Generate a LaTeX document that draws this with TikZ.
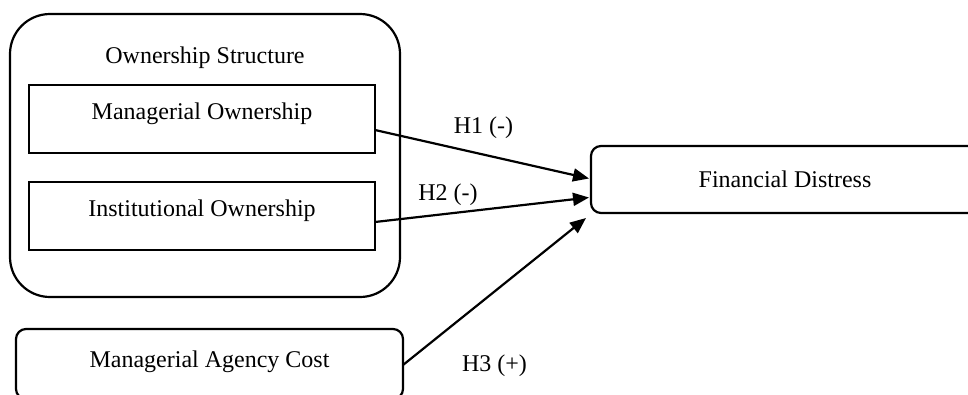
\documentclass[tikz,border=0pt]{standalone}
\usepackage{fontspec}
\setmainfont{Liberation Serif}
\usetikzlibrary{arrows.meta}
\begin{document}
\begin{tikzpicture}[x=1pt,y=-1pt,
  every node/.style={font=\fontsize{24}{28}\selectfont, inner sep=0pt, outer sep=0pt},
  box/.style={draw, line width=2.2pt, minimum width=346pt, minimum height=68pt, text height=17pt, text depth=17pt},
  rbox/.style={draw, line width=2.2pt, rounded corners=10pt},
  arr/.style={line width=2.2pt, -{Triangle[length=16pt,width=13pt]}},
  lbl/.style={anchor=base}]
\useasboundingbox (0,0) rectangle (968,394);
\clip (0,0) rectangle (968,394);
\node[draw, line width=2.2pt, rounded corners=40pt, minimum width=390pt, minimum height=283pt] (os) at (205,155.5) {};
\node[anchor=base] (ost) at (205,63) {Ownership Structure};
\node[box] (mo) at (202,119) {Managerial Ownership};
\node[box] (io) at (202,216) {Institutional Ownership};
\node[rbox, minimum width=387pt, minimum height=70pt, text height=17pt, text depth=11pt] (mac) at (209.5,364) {Managerial Agency Cost};
\node[rbox, minimum width=388pt, minimum height=67pt] (fd) at (785,179.5) {Financial Distress};
\draw[arr] ([yshift=-11pt]mo.east) -- ([xshift=-2pt,yshift=1pt]fd.west);
\draw[arr] ([yshift=-6pt]io.east) -- ([xshift=-2pt,yshift=-18pt]fd.west);
\draw[arr] ([yshift=-1pt]mac.east) -- ([xshift=-5pt,yshift=-5pt]fd.south west);
\node[lbl] (h1) at (483.5,133) {H1 (-)};
\node[lbl] (h2) at (448,200.5) {H2 (-)};
\node[lbl] (h3) at (494.5,371) {H3 (+)};
\end{tikzpicture}
\end{document}
